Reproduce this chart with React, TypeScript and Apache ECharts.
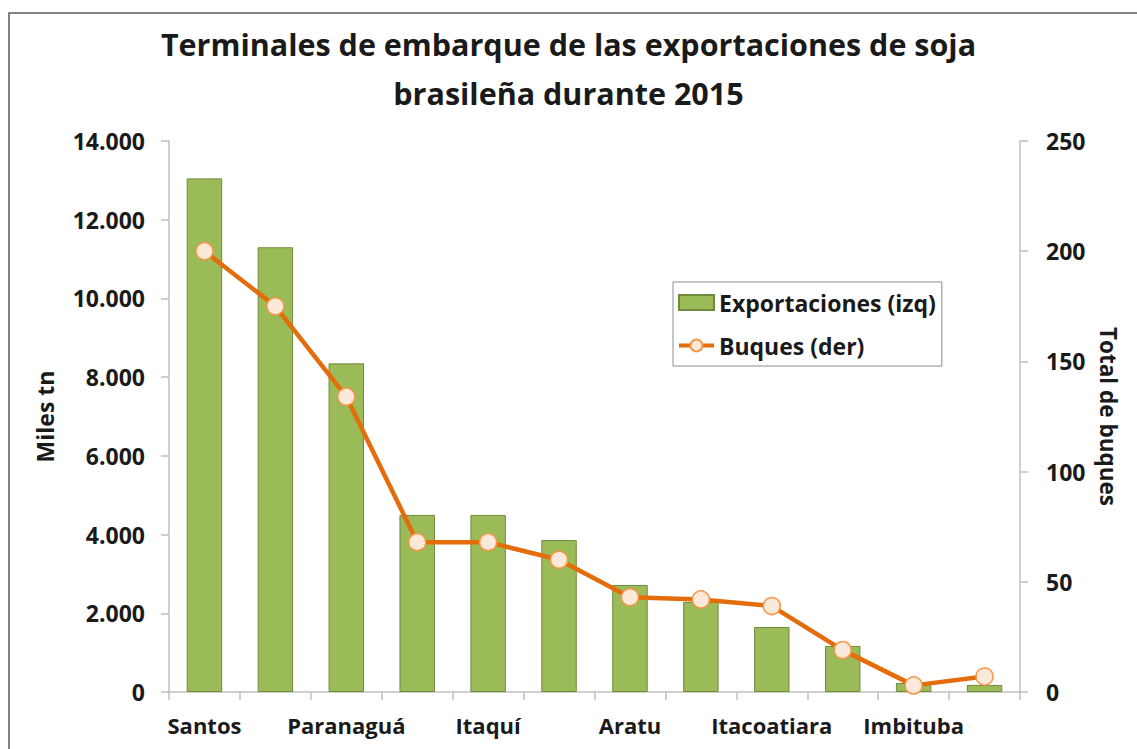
import { useEffect, useRef } from "react";
import * as echarts from "echarts";

const titleLines = ["Terminales de embarque de las exportaciones de soja", "brasileña durante 2015"];
const categories = [
  "Santos", "Rio Grande", "Paranaguá", "São Francisco do Sul", "Itaquí", "Vitória",
  "Aratu", "Barcarena", "Itacoatiara", "Santarém", "Imbituba", "Salvador",
];
const exportaciones = [13050, 11300, 8350, 4500, 4500, 3860, 2720, 2290, 1650, 1170, 230, 180];
const buques = [200, 175, 134, 68, 68, 60, 43, 42, 39, 19, 3, 7];
const leftMax = 14000;
const leftInterval = 2000;
const rightMax = 250;
const rightInterval = 50;

const FONT = "Open Sans";

function fmtThousands(v: number): string {
  return String(Math.round(v)).replace(/\B(?=(\d{3})+(?!\d))/g, ".");
}

export default function App() {
  const ref = useRef<HTMLDivElement>(null);
  useEffect(() => {
    document.body.style.margin = "0";
    document.body.style.overflow = "hidden";
    const chart = echarts.init(ref.current!, undefined, { renderer: "svg" });
    const axisColor = "#bfbfbf";
    const txt = "#1a1a1a";
    chart.setOption({
      animation: false,
      backgroundColor: "#ffffff",
      textStyle: { fontFamily: FONT },
      title: {
        text: titleLines.join("\n"),
        left: "center",
        top: 14,
        textStyle: { fontFamily: FONT, fontSize: 30.5, fontWeight: "bold", color: txt, lineHeight: 49 },
      },
      graphic: [
        {
          type: "rect",
          shape: { x: 9, y: 13, width: 1300, height: 900 },
          style: { fill: "none", stroke: "#5a5a5a", lineWidth: 1.5 },
          silent: true,
        },
      ],
      legend: {
        orient: "vertical",
        left: 673,
        top: 282,
        padding: [9, 6, 9, 4],
        itemGap: 20,
        itemWidth: 35,
        itemHeight: 15,
        borderColor: "#8c8c8c",
        borderWidth: 1,
        lineStyle: { width: 4 },
        textStyle: { fontFamily: FONT, fontSize: 23, fontWeight: "bold", color: txt },
        data: [
          { name: "Exportaciones (izq)", icon: "rect" },
          { name: "Buques (der)" },
        ],
      },
      grid: { left: 169, right: 117, top: 141, bottom: 57, containLabel: false },
      xAxis: {
        type: "category",
        data: categories,
        axisLine: { lineStyle: { color: axisColor, width: 1.5 } },
        axisTick: { show: true, length: 8, interval: 0, lineStyle: { color: axisColor, width: 1.5 } },
        axisLabel: {
          interval: 1,
          margin: 22,
          fontFamily: FONT,
          fontSize: 22,
          fontWeight: "bold",
          color: txt,
        },
      },
      yAxis: [
        {
          type: "value",
          min: 0,
          max: leftMax,
          interval: leftInterval,
          position: "left",
          name: "Miles tn",
          nameLocation: "middle",
          nameGap: 113,
          nameRotate: 90,
          nameTextStyle: { fontFamily: FONT, fontSize: 23, fontWeight: "bold", color: txt },
          axisLine: { show: true, lineStyle: { color: axisColor, width: 1.5 } },
          axisTick: { show: true, length: 8, lineStyle: { color: axisColor, width: 1.5 } },
          splitLine: { show: false },
          axisLabel: {
            margin: 24,
            fontFamily: FONT,
            fontSize: 23,
            fontWeight: "bold",
            color: txt,
            formatter: (v: number) => fmtThousands(v),
          },
        },
        {
          type: "value",
          min: 0,
          max: rightMax,
          interval: rightInterval,
          position: "right",
          name: "Total de buques",
          nameLocation: "middle",
          nameGap: 77,
          nameRotate: -90,
          nameTextStyle: { fontFamily: FONT, fontSize: 22.5, fontWeight: "bold", color: txt },
          axisLine: { show: true, lineStyle: { color: axisColor, width: 1.5 } },
          axisTick: { show: true, length: 8, lineStyle: { color: axisColor, width: 1.5 } },
          splitLine: { show: false },
          axisLabel: {
            margin: 26,
            fontFamily: FONT,
            fontSize: 23,
            fontWeight: "bold",
            color: txt,
          },
        },
      ],
      series: [
        {
          name: "Exportaciones (izq)",
          type: "bar",
          yAxisIndex: 0,
          data: exportaciones,
          barWidth: "50%",
          itemStyle: { color: "#9bbb59", borderColor: "#6f8a3c", borderWidth: 1 },
        },
        {
          name: "Buques (der)",
          type: "line",
          yAxisIndex: 1,
          data: buques,
          symbol: "circle",
          symbolSize: 17,
          lineStyle: { color: "#e46c0a", width: 4.5 },
          itemStyle: { color: "#fde9d9", borderColor: "#f79646", borderWidth: 1.5 },
          z: 5,
        },
      ],
    });
    return () => chart.dispose();
  }, []);
  return <div ref={ref} style={{ width: 1137, height: 749 }} />;
}
